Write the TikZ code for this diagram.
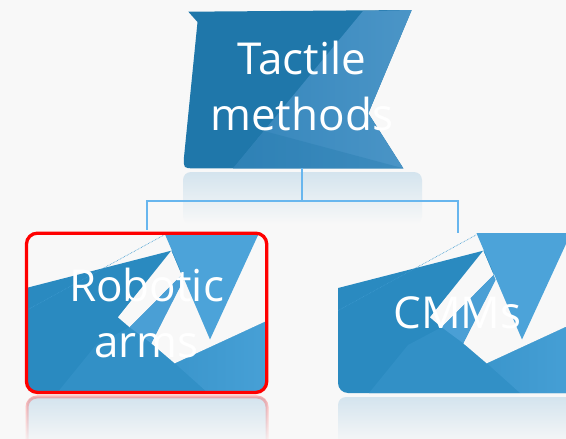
\documentclass[tikz,border=0pt]{standalone}
\usepackage{fontspec}
\newfontfamily\labelfont{Open Sans}
\usetikzlibrary{fadings}
\definecolor{bg}{HTML}{F8F8F8}
\definecolor{tdark}{HTML}{1F77AA}
\definecolor{tlight}{HTML}{3586BB}
\definecolor{tlight2}{HTML}{4B95C7}
\definecolor{cdark}{HTML}{2A8AC0}
\definecolor{clow}{HTML}{3290C6}
\definecolor{cRa}{HTML}{3B96CC}
\definecolor{cRb}{HTML}{47A0D6}
\definecolor{ctri}{HTML}{4CA3D9}
\definecolor{cband}{HTML}{4A9FD5}
\definecolor{conn}{HTML}{68B6EE}
\definecolor{refl}{HTML}{D4E4EE}
\tikzset{
  childtex/.pic={
    \begin{scope}
      \clip[rounded corners=10pt] (0,0) rectangle (241,160);
      \fill[cdark] (-1,55.3) -- (145.3,17.7) -- (242,-1) -- (242,161) -- (-1,161) -- cycle;
      \fill[clow] (31,160) -- (70,112) -- (104,94) -- (125.3,110.3) -- (148.7,130.3) -- (182,160) -- cycle;
      \shade[left color=cRa, right color=cRb] (148.7,130.3) -- (241,87.7) -- (241,160) -- (182,160) -- cycle;
      \fill[bg] (145.3,17.7) -- (155.6,42) -- (103.7,94.3) -- (92,84.3) -- cycle;
      \fill[bg] (155.6,42) -- (160,-1) -- (242,-1) -- (242,87.2) -- (148.7,130.3) -- (125.3,110.3) -- (157,47) -- cycle;
      \fill[cband] (103.7,94.3) -- (155.6,42) -- (157.6,47) -- (125.3,110.3) -- cycle;
      \fill[ctri] (138,-1) -- (233.5,-1) -- (184,106.5) -- cycle;
      \draw[ctri!60!cdark, line width=0.6pt, dash pattern=on 0.7pt off 0.9pt] (0,77.6) -- (138,2);
    \end{scope}
  }
}
\begin{document}
\begin{tikzpicture}[x=1pt,y=-1pt,
  lbl/.style={font=\labelfont\fontsize{44}{56}\selectfont, text=white, align=center, inner sep=0pt},
  connector/.style={draw=conn, line width=2pt},
  redframe/.style={draw=red, line width=3.3pt, rounded corners=11pt}
]
\useasboundingbox (0,0) rectangle (566,439);
\fill[bg] (0,0) rectangle (566,439);

% reflections
\shade[top color=refl, bottom color=bg, rounded corners=8pt] (183,172) rectangle (422,224);
\shade[top color=refl, bottom color=bg, rounded corners=8pt] (27,397) rectangle (267,446);
\draw[red!70, line width=3pt, opacity=0.4, path fading=south, rounded corners=10pt] (27,445) -- (27,397) -- (267,397) -- (267,445);
\shade[top color=refl, bottom color=bg, rounded corners=8pt] (338,397) rectangle (580,446);

% top shape
\fill[tdark] (188.3,11.7) -- (197.5,22) -- (184,157) .. controls (183.5,168.3) .. (194,168.3) -- (403.3,168.3) -- (368.3,113.3) -- (411.7,10) -- cycle;
\shade[left color=tlight, right color=tlight2] (233,168.3) -- (363,11) -- (411.7,10) -- (368.3,113.3) -- (403.3,168.3) -- cycle;
\fill[tdark, opacity=0.3] (264,131) -- (403.3,168.3) -- (233,168.3) -- cycle;

% child shapes
\pic at (26,233) {childtex};
\pic at (338,233) {childtex};

% nodes
\node[lbl, minimum height=161pt] (tactile) at (301.7,86) {Tactile\\methods};
\node[lbl, redframe, minimum width=240.3pt, minimum height=159.3pt] (robotic) at (146.6,312.8) {Robotic\\arms};
\node[lbl, minimum height=160pt] (cmms) at (457.5,313) {CMMs};

% connectors
\coordinate (junc) at (301.7,201);
\draw[connector] (tactile.south) ++(0,1.5) -- (junc);
\draw[connector, shorten >=1.6pt] (junc) -| (robotic.north);
\draw[connector] (junc) -| (cmms.north);
\end{tikzpicture}
\end{document}
